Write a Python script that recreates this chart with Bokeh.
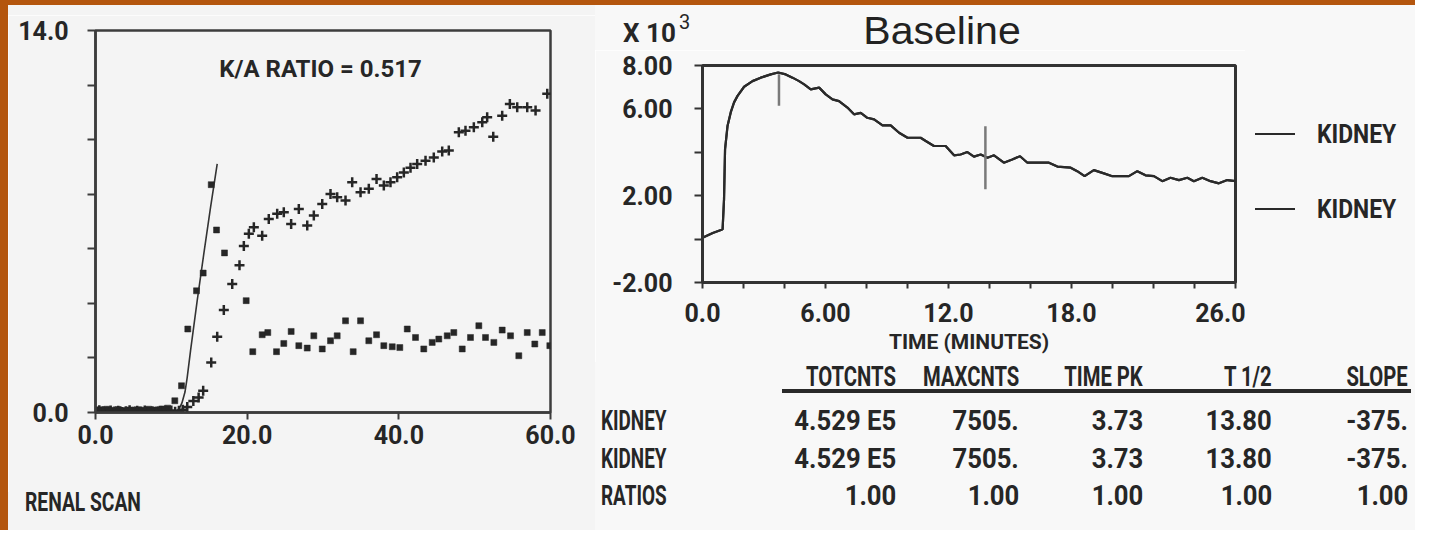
from bokeh.plotting import figure
from bokeh.layouts import row, column
from bokeh.models import FixedTicker, Label, Range1d, Div, Spacer
from bokeh.embed import file_html
from bokeh.resources import INLINE

BOLD = "Roboto"
SANS = "Liberation Sans"
INK = "#262626"
LINE = "#2a2a2a"
LEFT_BG = "#f4f4f4"
RIGHT_BG = "#f8f8f8"
ORANGE = "#b4560e"

# ---------------- left panel data (renal scan, counts vs minutes) ----------------
left_x_ticks = [0, 20, 40, 60]
left_x_labels = ["0.0", "20.0", "40.0", "60.0"]
left_y_ticks = [0, 2, 4, 6, 8, 10, 12, 14]
left_y_labels = ["0.0", "", "", "", "", "", "", "14.0"]

aorta_t = [0.0, 0.5, 1.0, 1.5, 2.0, 2.5, 3.0, 3.5, 4.0, 4.5, 5.0, 5.5, 6.0, 6.5, 7.0, 7.5,
           8.0, 8.5, 9.0, 9.5, 10.46, 11.34, 12.17, 13.32, 14.2, 15.26, 15.96, 17.01,
           19.87, 20.74, 21.98, 22.72, 23.87, 24.83, 25.8, 26.81, 27.92, 28.79, 29.9,
           30.99, 31.87, 32.97, 33.98, 34.95, 36.04, 37.06, 38.02, 39.13, 40.13, 41.11,
           42.2, 43.29, 44.4, 45.27, 46.38, 47.25, 48.36, 49.45, 50.55, 51.43, 52.53,
           53.63, 54.73, 55.82, 56.93, 57.93, 58.91, 59.91]
aorta_counts = [0.06, 0.10, 0.04, 0.12, 0.08, 0.05, 0.11, 0.07, 0.03, 0.09, 0.06, 0.10,
                0.05, 0.08, 0.12, 0.07, 0.09, 0.10, 0.13, 0.16, 0.43, 0.98, 3.06, 4.46,
                5.11, 8.35, 6.69, 5.85, 4.10, 2.23, 2.85, 2.93, 2.23, 2.53, 2.97, 2.45,
                2.36, 2.81, 2.33, 2.63, 2.81, 3.36, 2.23, 3.36, 2.63, 2.85, 2.45, 2.41,
                2.38, 3.06, 2.75, 2.33, 2.57, 2.69, 2.81, 2.93, 2.33, 2.75, 3.18, 2.75,
                2.57, 3.02, 2.81, 2.08, 2.93, 2.51, 2.93, 2.45]

kidney_t = [0.0, 0.5, 1.0, 1.5, 2.0, 2.5, 3.0, 3.5, 4.0, 4.5, 5.0, 5.5, 6.0, 6.5, 7.0, 7.5,
            8.0, 8.5, 9.0, 9.5, 10.0, 10.5, 11.0, 11.5, 12.1, 12.9, 13.6, 14.2, 15.26,
            16.05, 16.92, 18.03, 18.99, 19.56, 20.22, 20.88, 21.98, 22.85, 23.96, 24.83,
            25.8, 26.81, 27.92, 28.79, 29.9, 30.99, 31.87, 32.97, 33.85, 34.95, 36.04,
            37.06, 38.02, 38.9, 39.78, 40.66, 41.54, 42.42, 43.52, 44.61, 45.72, 46.59,
            47.91, 48.79, 49.89, 51.0, 51.65, 52.45, 53.63, 54.64, 55.61, 56.93, 58.03,
            59.57]
kidney_counts = [0.02, 0.08, 0.05, 0.03, 0.07, 0.04, 0.06, 0.02, 0.05, 0.08, 0.03, 0.06,
                 0.04, 0.07, 0.02, 0.05, 0.03, 0.06, 0.04, 0.05, 0.07, 0.03, 0.06, 0.10,
                 0.20, 0.42, 0.55, 0.80, 1.83, 2.78, 3.76, 4.71, 5.40, 6.10, 6.55, 6.79,
                 6.48, 7.09, 7.28, 7.34, 6.91, 7.46, 6.85, 7.22, 7.64, 8.01, 7.89, 7.77,
                 8.44, 8.07, 8.20, 8.56, 8.32, 8.44, 8.62, 8.80, 8.97, 9.11, 9.23, 9.35,
                 9.57, 9.60, 10.27, 10.33, 10.45, 10.64, 10.82, 10.11, 10.88, 11.31, 11.19,
                 11.19, 11.07, 11.68]

fit_t = [10.5, 11.0, 11.4, 11.8, 12.09, 12.53, 13.41, 14.28, 15.17, 16.05]
fit_counts = [0.02, 0.12, 0.35, 0.75, 1.28, 2.26, 4.10, 5.81, 7.52, 9.11]

ka_ratio = "0.517"
left_caption = "RENAL SCAN"

# ---------------- right panel data (renogram, counts x10^3 vs minutes) ----------------
reno_t = [0.0, 0.5, 0.9, 0.98, 1.05, 1.1, 1.22, 1.38, 1.54, 1.71, 2.03, 2.44, 2.84, 3.33,
          3.69, 4.06, 4.39, 4.71, 4.96, 5.28, 5.69, 6.01, 6.34, 6.66, 7.07, 7.39, 7.72,
          8.04, 8.37, 8.78, 9.18, 9.59, 10.0, 10.64, 10.89, 11.29, 11.86, 12.27, 12.59,
          12.92, 13.24, 13.57, 13.9, 14.22, 14.7, 15.11, 15.49, 15.85, 16.9, 17.31,
          17.96, 18.28, 18.64, 19.09, 19.58, 19.99, 20.8, 21.21, 21.61, 22.02, 22.43,
          22.83, 23.24, 23.65, 23.97, 24.38, 24.78, 25.19, 25.6, 26.0]
kidney1_counts = [0.06, 0.28, 0.42, 0.45, 1.83, 4.13, 5.21, 5.85, 6.30, 6.60, 7.02, 7.28,
                  7.44, 7.59, 7.68, 7.59, 7.44, 7.28, 7.13, 6.90, 6.98, 6.67, 6.44, 6.36,
                  6.06, 5.75, 5.82, 5.59, 5.52, 5.24, 5.24, 4.90, 4.67, 4.67, 4.52, 4.29,
                  4.29, 3.86, 3.90, 4.01, 3.80, 3.90, 3.75, 3.86, 3.52, 3.67, 3.82, 3.52,
                  3.52, 3.34, 3.29, 3.13, 2.90, 3.18, 3.03, 2.90, 2.90, 3.13, 2.94, 2.90,
                  2.67, 2.83, 2.72, 2.83, 2.67, 2.83, 2.67, 2.57, 2.72, 2.67]
kidney2_counts = list(kidney1_counts)  # identical curve (all ratios 1.00)

marker_t = [3.73, 13.80]     # TIME PK, T 1/2
marker_lo = [6.15, 2.30]
marker_hi = [7.60, 5.20]

right_x_ticks = [0, 6, 12, 18, 26]
right_x_labels = ["0.0", "6.00", "12.0", "18.0", "26.0"]
right_x_minor = [2, 4, 8, 10, 14, 16, 20, 22, 24]
right_y_ticks = [-2, 0, 2, 4, 6, 8]
right_y_labels = ["-2.00", "", "2.00", "", "6.00", "8.00"]

right_title = "Baseline"
y_scale_base = "X 10"
y_scale_exp = "3"
legend_labels = ["KIDNEY", "KIDNEY"]
table_cols = ["TOTCNTS", "MAXCNTS", "TIME PK", "T 1/2", "SLOPE"]
table_rows = ["KIDNEY", "KIDNEY", "RATIOS"]
table_vals = [["4.529 E5", "7505.", "3.73", "13.80", "-375."],
              ["4.529 E5", "7505.", "3.73", "13.80", "-375."],
              ["1.00", "1.00", "1.00", "1.00", "1.00"]]

# ---------------- layout geometry (page pixels) ----------------
OX, OY = 8, 5              # orange slide edge (left / top)
LW = 595 - OX              # left figure width
RW = 650                   # right figure width
LEG_W = 170                # legend block width (right of the right figure)
TOP_B, BOT_B = 15, 80      # identical top/bottom borders of both figures
TOTAL_H = 530
LF = dict(left=95, right=550, top=30, bottom=412)
RF = dict(left=702, right=1235, top=65, bottom=282)
X_RIGHT = OX + LW          # page x where the right column starts (595)
FULL_R = X_RIGHT + RW + LEG_W
RULE_Y, RULE_T = 391, 2    # table underline bar (page y, thickness)
RULE_X0, RULE_X1 = 782, 1411


def style_axis(ax, color, width):
    ax.axis_line_color = color
    ax.axis_line_width = width
    ax.major_tick_line_color = color
    ax.major_tick_line_width = 2
    ax.major_tick_in = 0
    ax.major_label_text_font = BOLD
    ax.major_label_text_font_style = "bold"
    ax.major_label_text_font_size = "25px"
    ax.major_label_text_color = INK


# ---------------- left figure ----------------
pl = figure(width=LW, height=TOP_B + (LF["bottom"] - LF["top"]) + BOT_B,
            x_range=Range1d(0, 60), y_range=Range1d(0, 14),
            output_backend="svg", toolbar_location=None,
            min_border_left=LF["left"] - OX, min_border_right=X_RIGHT - LF["right"],
            min_border_top=TOP_B, min_border_bottom=BOT_B)
pl.background_fill_color = LEFT_BG
pl.border_fill_color = LEFT_BG
pl.outline_line_color = "#3c3c3c"
pl.outline_line_width = 2.5
pl.grid.visible = False
style_axis(pl.xaxis[0], "#3c3c3c", 2.5)
style_axis(pl.yaxis[0], "#3c3c3c", 2.5)
pl.xaxis.ticker = FixedTicker(ticks=left_x_ticks)
pl.xaxis.major_label_overrides = dict(zip(left_x_ticks, left_x_labels))
pl.xaxis.major_tick_out = 7
pl.xaxis.minor_tick_line_color = None
pl.xaxis.major_label_standoff = 5
pl.yaxis.ticker = FixedTicker(ticks=left_y_ticks)
pl.yaxis.major_label_overrides = dict(zip(left_y_ticks, left_y_labels))
pl.yaxis.major_tick_out = 8
pl.yaxis.minor_tick_line_color = None
pl.yaxis.major_label_standoff = 19

pl.line(fit_t, fit_counts, line_color="#333333", line_width=1.6)
pl.scatter(aorta_t, aorta_counts, marker="square", size=6, fill_color=INK, line_color=INK,
           line_width=0.5)
pl.scatter(kidney_t, kidney_counts, marker="cross", size=10, line_color=INK, line_width=2.5)

pl.add_layout(Label(x=(320 - LF["left"]) * 60.0 / (LF["right"] - LF["left"]),
                    y=(LF["bottom"] - 68) * 14.0 / (LF["bottom"] - LF["top"]),
                    text="K/A RATIO = " + ka_ratio, text_align="center",
                    text_baseline="middle", text_font=BOLD, text_font_style="bold",
                    text_font_size="24px", text_color=INK))

# ---------------- right figure ----------------
pr = figure(width=RW, height=TOP_B + (RF["bottom"] - RF["top"]) + BOT_B,
            x_range=Range1d(0, 26), y_range=Range1d(-2, 8),
            output_backend="svg", toolbar_location=None,
            min_border_left=RF["left"] - X_RIGHT, min_border_right=X_RIGHT + RW - RF["right"],
            min_border_top=TOP_B, min_border_bottom=BOT_B)
pr.background_fill_color = RIGHT_BG
pr.border_fill_color = RIGHT_BG
pr.outline_line_color = "#333333"
pr.outline_line_width = 3
pr.grid.visible = False
style_axis(pr.xaxis[0], "#333333", 3)
style_axis(pr.yaxis[0], "#333333", 3)
pr.xaxis.ticker = FixedTicker(ticks=right_x_ticks, minor_ticks=right_x_minor)
pr.xaxis.major_label_overrides = dict(zip(right_x_ticks, right_x_labels))
pr.xaxis.major_tick_out = 6
pr.xaxis.minor_tick_out = 6
pr.xaxis.minor_tick_in = 0
pr.xaxis.minor_tick_line_color = "#333333"
pr.xaxis.minor_tick_line_width = 2
pr.xaxis.major_label_standoff = 14
pr.xaxis.axis_label = "TIME (MINUTES)"
pr.xaxis.axis_label_text_font = BOLD
pr.xaxis.axis_label_text_font_style = "bold"
pr.xaxis.axis_label_text_font_size = "21px"
pr.xaxis.axis_label_text_color = INK
pr.xaxis.axis_label_standoff = 5
pr.yaxis.ticker = FixedTicker(ticks=right_y_ticks)
pr.yaxis.major_label_overrides = dict(zip(right_y_ticks, right_y_labels))
pr.yaxis.major_tick_out = 8
pr.yaxis.minor_tick_line_color = None
pr.yaxis.major_label_standoff = 22

pr.line(reno_t, kidney1_counts, line_color=LINE, line_width=2.2)
pr.line(reno_t, kidney2_counts, line_color=LINE, line_width=2.2)
pr.segment(x0=marker_t, y0=marker_lo, x1=marker_t, y1=marker_hi,
           line_color="#7a7a7a", line_width=2.5)


# ---------------- HTML text blocks (outside the plot frames) ----------------
def span(text, top, size, left=None, right=None, weight="bold", family=BOLD,
         scale=1.0, color=INK):
    if left is not None:
        pos, origin = "left:%dpx;" % left, "left"
    else:
        pos, origin = "right:%dpx;" % right, "right"
    return ('<span style="position:absolute;%stop:%dpx;font-family:%s;font-weight:%s;'
            'font-size:%dpx;line-height:1;color:%s;white-space:nowrap;'
            'transform:scaleX(%.2f);transform-origin:%s center;">%s</span>'
            % (pos, top, family, weight, size, color, scale, origin, text))


def rule(left, top, width, thickness, color):
    return ('<div style="position:absolute;left:%dpx;top:%dpx;width:%dpx;height:%dpx;'
            'background-color:%s;font-size:0;line-height:0;">&nbsp;</div>'
            % (left, top, width, thickness, color))


def box(inner, w, h):
    return ('<div style="position:relative;width:%dpx;height:%dpx;overflow:visible;">%s</div>'
            % (w, h, inner))


def text_div(inner, w, h, bg):
    return Div(text=box(inner, w, h), width=w, height=h, margin=0,
               styles={"background-color": bg, "overflow": "visible"})


def bar(w, h, color):
    return Spacer(width=w, height=h, margin=0, styles={"background-color": color})


# left column: spacer above, caption below
left_top = bar(LW, LF["top"] - TOP_B - OY, LEFT_BG)
cap_y0 = LF["bottom"] + BOT_B
left_bottom = text_div(span(left_caption, top=502 - cap_y0 - 13, size=26, left=25 - OX,
                            scale=0.74), LW, TOTAL_H - cap_y0, LEFT_BG)

# right column: header above (scale factor and title)
hdr_y0 = OY
hdr_h = RF["top"] - TOP_B - OY
hdr = (span(y_scale_base, top=33 - 13 - hdr_y0, size=26, left=623 - X_RIGHT)
       + span(y_scale_exp, top=22 - 10 - hdr_y0, size=20, left=679 - X_RIGHT,
              weight="normal")
       + '<span style="position:absolute;left:%dpx;top:%dpx;width:300px;text-align:center;'
         'font-family:%s;font-size:38px;line-height:1;color:#222222;white-space:nowrap;'
         'transform:scaleX(1.08);">%s</span>' % (942 - X_RIGHT - 150, 12 - hdr_y0, SANS,
                                                 right_title))
right_top = text_div(hdr, RW + LEG_W, hdr_h, RIGHT_BG)

# legend block to the right of the renogram
leg_x0 = X_RIGHT + RW
leg_y0 = RF["top"] - TOP_B
leg_item_y = [134, 209]
leg = ""
for i, lab in enumerate(legend_labels):
    leg += rule(1255 - leg_x0, leg_item_y[i] - leg_y0 - 1, 40, 2, LINE)
    leg += span(lab, top=leg_item_y[i] - leg_y0 - 13, size=26, left=1317 - leg_x0,
                scale=0.88)
legend_div = text_div(leg, LEG_W, TOP_B + (RF["bottom"] - RF["top"]) + BOT_B, RIGHT_BG)

# table: header line (with its underline), underline bar, body
col_right_px = [896, 1019, 1143, 1272, 1408]
row_y_px = [421, 459, 496]
FS = 27
thead_y0 = RF["bottom"] + BOT_B
thead = rule(RULE_X0 - X_RIGHT, RULE_Y - thead_y0 - 2, RULE_X1 - RULE_X0, 2, LINE)
for c, name in enumerate(table_cols):
    thead += span(name, top=377 - thead_y0 - int(0.49 * FS), size=FS,
                  right=FULL_R - col_right_px[c], scale=0.75)
thead_div = text_div(thead, RW + LEG_W, RULE_Y - thead_y0, RIGHT_BG)

underline = row(bar(RULE_X0 - X_RIGHT, RULE_T, RIGHT_BG),
                bar(RULE_X1 - RULE_X0, RULE_T, LINE),
                bar(FULL_R - RULE_X1, RULE_T, RIGHT_BG), spacing=0)

tbody_y0 = RULE_Y + RULE_T
tbody = ""
for r, rname in enumerate(table_rows):
    top = row_y_px[r] - tbody_y0 - int(0.49 * FS)
    tbody += span(rname, top=top, size=FS, left=601 - X_RIGHT, scale=0.7)
    for c in range(len(table_cols)):
        tbody += span(table_vals[r][c], top=top, size=FS,
                      right=FULL_R - col_right_px[c], scale=0.95)
tbody_div = text_div(tbody, RW + LEG_W, TOTAL_H - tbody_y0, RIGHT_BG)

left_col = column(left_top, pl, left_bottom, spacing=0)
right_col = column(right_top, row(pr, legend_div, spacing=0), thead_div, underline,
                   tbody_div, spacing=0)
edge_top = bar(OX + LW + RW + LEG_W, OY, ORANGE)
edge_left = bar(OX, TOTAL_H - OY, ORANGE)
layout = column(edge_top, row(edge_left, left_col, right_col, spacing=0), spacing=0)

open("out.html", "w").write(file_html(layout, INLINE))
